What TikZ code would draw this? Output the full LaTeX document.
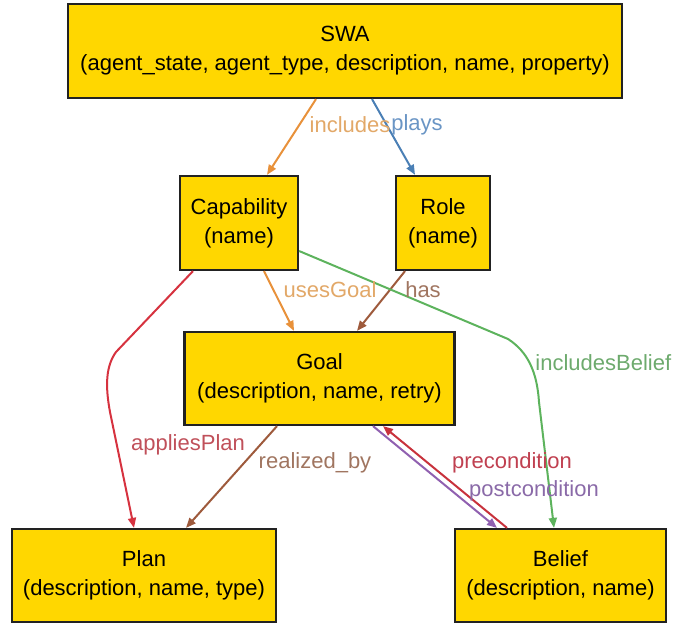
\documentclass[tikz,border=0pt]{standalone}
\usepackage{fontspec}
\setmainfont{Liberation Sans}
\usetikzlibrary{arrows.meta}
\definecolor{boxfill}{HTML}{FFD700}
\definecolor{boxline}{HTML}{222222}
\definecolor{cOrange}{HTML}{E8913A}
\definecolor{lOrange}{HTML}{E2A868}
\definecolor{cBlue}{HTML}{4A7FB5}
\definecolor{lBlue}{HTML}{6A95C5}
\definecolor{cBrown}{HTML}{9E5A3C}
\definecolor{lBrown}{HTML}{A07560}
\definecolor{cGreen}{HTML}{5DB35D}
\definecolor{lGreen}{HTML}{6DAA6D}
\definecolor{cCrimson}{HTML}{D6323F}
\definecolor{lCrimson}{HTML}{C0505A}
\definecolor{cRed}{HTML}{C8323C}
\definecolor{lRed}{HTML}{C04050}
\definecolor{cPurple}{HTML}{9060B0}
\definecolor{lPurple}{HTML}{8A6AA8}
\tikzset{
  entity/.style={draw=boxline, fill=boxfill, line width=1.1pt, align=center, inner sep=0pt,
    font=\fontsize{11}{14.5}\selectfont},
  rel/.style={line width=1pt, -{Triangle[length=5pt,width=4pt]}},
  lbl/.style={font=\fontsize{11}{13}\selectfont, inner sep=0pt}
}
\begin{document}
\begin{tikzpicture}[x=0.5pt,y=-0.5pt]
\useasboundingbox (0,0) rectangle (678,625);
\node[entity, minimum width=277pt, minimum height=47pt] (swa) at (345,51) {SWA\\(agent\_state, agent\_type, description, name, property)};
\node[entity, minimum width=59pt, minimum height=47pt] (cap) at (239,223) {Capability\\(name)};
\node[entity, minimum width=47pt, minimum height=47pt] (role) at (443,223) {Role\\(name)};
\node[entity, minimum width=135pt, minimum height=46.5pt] (goal) at (319.5,378.5) {Goal\\(description, name, retry)};
\node[entity, minimum width=132pt, minimum height=46.5pt] (plan) at (144,575.5) {Plan\\(description, name, type)};
\node[entity, minimum width=105.5pt, minimum height=46.5pt] (belief) at (560.5,575.5) {Belief\\(description, name)};

% edges
\draw[rel, cOrange] ([xshift=-14.5pt]swa.south) -- ([xshift=14pt]cap.north);
\draw[rel, cBlue] ([xshift=13.5pt]swa.south) -- ([xshift=-14pt]role.north);
\draw[rel, cOrange] ([xshift=12.5pt]cap.south) -- ([xshift=-12.75pt]goal.north);
\draw[rel, cBrown] ([xshift=-19pt]role.south) -- ([xshift=18.75pt]goal.north);
\draw[rel, cCrimson] ([xshift=-23pt]cap.south) -- (116,352) .. controls (106,366) and (105,385) .. (110,412) -- ([xshift=-5pt]plan.north);
\draw[rel, cGreen] ([yshift=-14pt]cap.east) -- (508,339) .. controls (528,352) and (537,372) .. (539,402) -- ([xshift=-3.25pt]belief.north);
\draw[rel, cBrown] ([xshift=-21.25pt]goal.south) -- ([xshift=21pt]plan.north);
\draw[rel, cPurple] ([xshift=26.75pt]goal.south) -- ([xshift=-31.75pt]belief.north);
\draw[rel, cRed] ([xshift=-26.75pt]belief.north) -- ([xshift=31.75pt]goal.south);

% labels
\node[lbl, text=lOrange] (l1) at (350,125) {includes};
\node[lbl, text=lBlue] (l2) at (417,125) {plays};
\node[lbl, text=lOrange] (l3) at (330,290) {usesGoal};
\node[lbl, text=lBrown] (l4) at (423,290) {has};
\node[lbl, text=lCrimson] (l5) at (188,445) {appliesPlan};
\node[lbl, text=lBrown] (l6) at (315,463) {realized\_by};
\node[lbl, text=lRed] (l7) at (512,463) {precondition};
\node[lbl, text=lPurple] (l8) at (534,491) {postcondition};
\node[lbl, text=lGreen, anchor=west] (l9) at (535,363) {includesBelief};
\end{tikzpicture}
\end{document}
